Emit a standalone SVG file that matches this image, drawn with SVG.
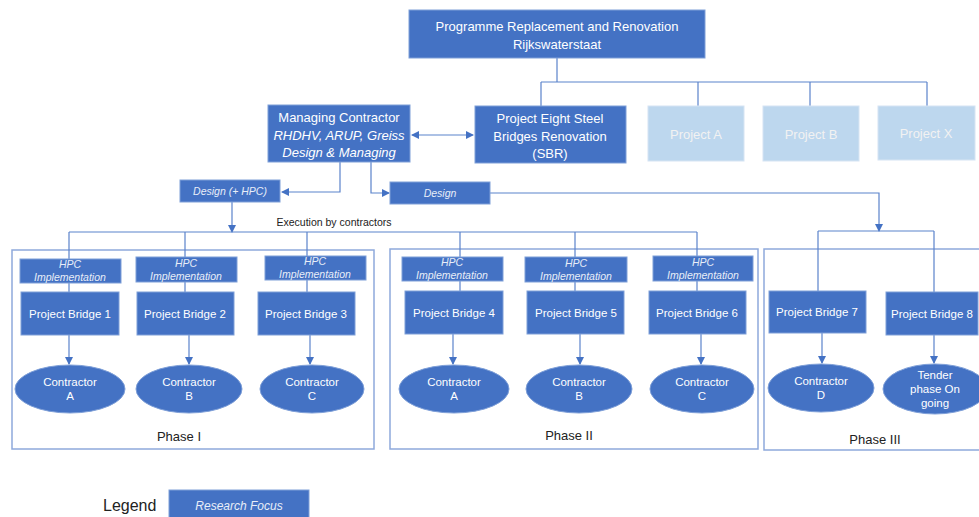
<svg xmlns="http://www.w3.org/2000/svg" width="979" height="517" viewBox="0 0 979 517">
  <style>
    text { font-family: "Liberation Sans", Arial, sans-serif; }
    .box { fill: #4472C4; stroke: #7E9FD8; stroke-width: 1; }
    .pale { fill: #BDD7EE; stroke: #D6E4F3; stroke-width: 1; }
    .ell { fill: #4472C4; stroke: #7E9FD8; stroke-width: 1; }
    .phase { fill: none; stroke: #8EA9DB; stroke-width: 1.5; }
    .w { fill: #FFFFFF; text-anchor: middle; }
    .wp { fill: #F2F2F2; text-anchor: middle; font-size: 13px; }
    .t13 { font-size: 13px; }
    .t11 { font-size: 11.5px; }
    .it { font-style: italic; }
    .hpc { font-size: 10.5px; font-style: italic; fill: #E8EEF8; text-anchor: middle; }
    .dk { fill: #222222; text-anchor: middle; }
    .ln { fill: none; stroke: #5B83CB; stroke-width: 1.2; }
    .arr { fill: none; stroke: #5B83CB; stroke-width: 1.2; marker-end: url(#ah); }
  </style>
  <defs>
    <marker id="ah" markerWidth="8" markerHeight="8" refX="7" refY="4" orient="auto" markerUnits="userSpaceOnUse">
      <path d="M0,0 L8,4 L0,8 Z" fill="#4472C4"/>
    </marker>
    <marker id="ahs" markerWidth="8" markerHeight="8" refX="1" refY="4" orient="auto" markerUnits="userSpaceOnUse">
      <path d="M8,0 L0,4 L8,8 Z" fill="#4472C4"/>
    </marker>
  </defs>

  <rect width="979" height="517" fill="#FFFFFF"/>

  <!-- phase frames -->
  <g id="phase1">
    <rect class="phase" x="12" y="250" width="362" height="199"/>
    <text class="dk t13" x="179" y="441">Phase I</text>
  </g>
  <g id="phase2">
    <rect class="phase" x="390" y="249" width="368" height="200"/>
    <text class="dk t13" x="569" y="440">Phase II</text>
  </g>
  <g id="phase3">
    <rect class="phase" x="764" y="249" width="220" height="201"/>
    <text class="dk t13" x="875" y="444">Phase III</text>
  </g>

  <!-- connectors -->
  <g id="connectors">
    <path class="ln" d="M557,58 V82 M541,82 H927 M541,82 V106 M698,82 V106 M810,82 V106 M927,82 V106"/>
    <line x1="412" y1="135" x2="473" y2="135" stroke="#5B83CB" stroke-width="1.2" marker-start="url(#ahs)" marker-end="url(#ah)"/>
    <path class="arr" d="M340,162 V192 H282"/>
    <path class="arr" d="M371,162 V193 H389"/>
    <path class="arr" d="M490,193 H879 V231"/>
    <path class="arr" d="M232,202 V232"/>
    <path class="ln" d="M69,232 H697 M69,232 V292 M185,232 V292 M307,232 V292 M460,232 V291 M575,232 V291 M697,232 V291"/>
    <path class="ln" d="M818,231 H934 M818,231 V291 M934,231 V292"/>
    <path class="arr" d="M69,335 V364"/>
    <path class="arr" d="M189,335 V364"/>
    <path class="arr" d="M310,335 V364"/>
    <path class="arr" d="M453,334 V364"/>
    <path class="arr" d="M580,334 V364"/>
    <path class="arr" d="M701,334 V364"/>
    <path class="arr" d="M822,333 V363"/>
    <path class="arr" d="M934,335 V363"/>
  </g>

  <!-- top level -->
  <g id="programme">
    <rect class="box" x="409" y="10" width="296" height="48"/>
    <text class="w t13" x="557" y="31">Programme Replacement and Renovation</text>
    <text class="w t13" x="557" y="49">Rijkswaterstaat</text>
  </g>
  <g id="managing-contractor">
    <rect class="box" x="268" y="105" width="142" height="57"/>
    <text class="w t13" x="339" y="122">Managing Contractor</text>
    <text class="w t13 it" x="339" y="140">RHDHV, ARUP, Greiss</text>
    <text class="w t13 it" x="339" y="157">Design &amp; Managing</text>
  </g>
  <g id="sbr">
    <rect class="box" x="475" y="106" width="151" height="57"/>
    <text class="w t13" x="550" y="123">Project Eight Steel</text>
    <text class="w t13" x="550" y="141">Bridges Renovation</text>
    <text class="w t13" x="550" y="158">(SBR)</text>
  </g>
  <g id="project-a">
    <rect class="pale" x="648" y="106" width="96" height="55"/>
    <text class="wp" x="696" y="139">Project A</text>
  </g>
  <g id="project-b">
    <rect class="pale" x="763" y="106" width="96" height="55"/>
    <text class="wp" x="811" y="139">Project B</text>
  </g>
  <g id="project-x">
    <rect class="pale" x="878" y="106" width="97" height="54"/>
    <text class="wp" x="926" y="138">Project X</text>
  </g>

  <g id="design-hpc">
    <rect class="box" x="180" y="180" width="100" height="22"/>
    <text class="hpc" x="230" y="195">Design (+ HPC)</text>
  </g>
  <g id="design">
    <rect class="box" x="390" y="182" width="100" height="22"/>
    <text class="hpc" x="440" y="197">Design</text>
  </g>
  <text x="334" y="226" font-size="10.5" class="dk">Execution by contractors</text>

  <!-- phase I -->
  <g id="hpc1">
    <rect class="box" x="20" y="259" width="101" height="24"/>
    <text class="hpc" x="70" y="268">HPC</text>
    <text class="hpc" x="70" y="281">Implementation</text>
  </g>
  <g id="hpc2">
    <rect class="box" x="136" y="257" width="101" height="25"/>
    <text class="hpc" x="186" y="267">HPC</text>
    <text class="hpc" x="186" y="280">Implementation</text>
  </g>
  <g id="hpc3">
    <rect class="box" x="265" y="256" width="101" height="24"/>
    <text class="hpc" x="315" y="265">HPC</text>
    <text class="hpc" x="315" y="278">Implementation</text>
  </g>
  <g id="bridge1">
    <rect class="box" x="21" y="292" width="98" height="43"/>
    <text class="w t11" x="70" y="318">Project Bridge 1</text>
  </g>
  <g id="bridge2">
    <rect class="box" x="137" y="292" width="97" height="43"/>
    <text class="w t11" x="185" y="318">Project Bridge 2</text>
  </g>
  <g id="bridge3">
    <rect class="box" x="258" y="292" width="97" height="43"/>
    <text class="w t11" x="306" y="318">Project Bridge 3</text>
  </g>
  <g id="contractor-a1">
    <ellipse class="ell" cx="70" cy="389" rx="55" ry="24"/>
    <text class="w t11" x="70" y="386">Contractor</text>
    <text class="w t11" x="70" y="400">A</text>
  </g>
  <g id="contractor-b1">
    <ellipse class="ell" cx="189" cy="389" rx="53" ry="24"/>
    <text class="w t11" x="189" y="386">Contractor</text>
    <text class="w t11" x="189" y="400">B</text>
  </g>
  <g id="contractor-c1">
    <ellipse class="ell" cx="312" cy="389" rx="52" ry="24"/>
    <text class="w t11" x="312" y="386">Contractor</text>
    <text class="w t11" x="312" y="400">C</text>
  </g>

  <!-- phase II -->
  <g id="hpc4">
    <rect class="box" x="402" y="257" width="101" height="24"/>
    <text class="hpc" x="452" y="266">HPC</text>
    <text class="hpc" x="452" y="279">Implementation</text>
  </g>
  <g id="hpc5">
    <rect class="box" x="525" y="257" width="102" height="25"/>
    <text class="hpc" x="576" y="267">HPC</text>
    <text class="hpc" x="576" y="280">Implementation</text>
  </g>
  <g id="hpc6">
    <rect class="box" x="653" y="256" width="100" height="25"/>
    <text class="hpc" x="703" y="266">HPC</text>
    <text class="hpc" x="703" y="279">Implementation</text>
  </g>
  <g id="bridge4">
    <rect class="box" x="405" y="291" width="98" height="43"/>
    <text class="w t11" x="454" y="317">Project Bridge 4</text>
  </g>
  <g id="bridge5">
    <rect class="box" x="527" y="291" width="97" height="43"/>
    <text class="w t11" x="576" y="317">Project Bridge 5</text>
  </g>
  <g id="bridge6">
    <rect class="box" x="649" y="291" width="97" height="43"/>
    <text class="w t11" x="697" y="317">Project Bridge 6</text>
  </g>
  <g id="contractor-a2">
    <ellipse class="ell" cx="454" cy="389" rx="55" ry="24"/>
    <text class="w t11" x="454" y="386">Contractor</text>
    <text class="w t11" x="454" y="400">A</text>
  </g>
  <g id="contractor-b2">
    <ellipse class="ell" cx="579" cy="389" rx="53" ry="24"/>
    <text class="w t11" x="579" y="386">Contractor</text>
    <text class="w t11" x="579" y="400">B</text>
  </g>
  <g id="contractor-c2">
    <ellipse class="ell" cx="702" cy="389" rx="52" ry="24"/>
    <text class="w t11" x="702" y="386">Contractor</text>
    <text class="w t11" x="702" y="400">C</text>
  </g>

  <!-- phase III -->
  <g id="bridge7">
    <rect class="box" x="769" y="291" width="97" height="42"/>
    <text class="w t11" x="817" y="316">Project Bridge 7</text>
  </g>
  <g id="bridge8">
    <rect class="box" x="886" y="292" width="92" height="43"/>
    <text class="w t11" x="932" y="318">Project Bridge 8</text>
  </g>
  <g id="contractor-d">
    <ellipse class="ell" cx="821" cy="388" rx="53" ry="24"/>
    <text class="w t11" x="821" y="385">Contractor</text>
    <text class="w t11" x="821" y="399">D</text>
  </g>
  <g id="tender">
    <ellipse class="ell" cx="935" cy="389" rx="52" ry="25"/>
    <text class="w t11" x="935" y="379">Tender</text>
    <text class="w t11" x="935" y="393">phase On</text>
    <text class="w t11" x="935" y="407">going</text>
  </g>

  <!-- legend -->
  <g id="legend">
    <text x="103" y="511" font-size="16" fill="#222222">Legend</text>
    <rect class="box" x="169" y="490" width="140" height="30"/>
    <text class="hpc" x="239" y="510" style="font-size:12px">Research Focus</text>
  </g>
</svg>
